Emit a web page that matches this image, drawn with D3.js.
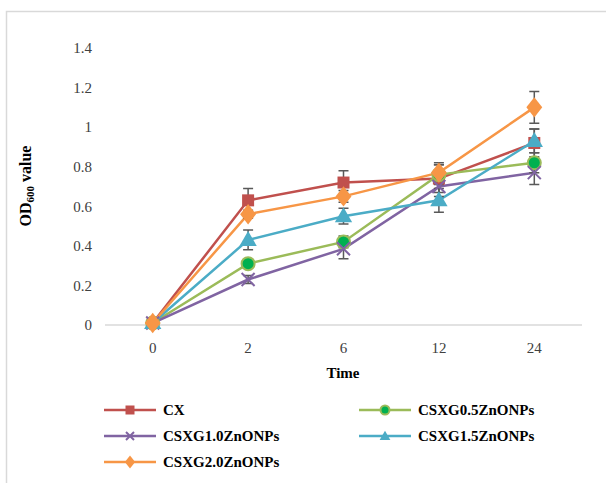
<!DOCTYPE html>
<html><head><meta charset="utf-8">
<script src="https://cdn.jsdelivr.net/npm/d3@7/dist/d3.min.js"></script>
<style>body{margin:0;background:#fff}svg{display:block}</style>
</head><body>
<svg id="c" width="606" height="483"></svg>
<script>
const categories = ["0","2","6","12","24"];
const yTicks = [0,0.2,0.4,0.6,0.8,1,1.2,1.4];
const seriesNames = ["CX","CSXG0.5ZnONPs","CSXG1.0ZnONPs","CSXG1.5ZnONPs","CSXG2.0ZnONPs"];
const cxValues   = [0.01,0.63,0.72,0.74,0.92];
const cxErr      = [0.01,0.06,0.06,0.07,0.07];
const g05Values  = [0.01,0.31,0.42,0.76,0.82];
const g05Err     = [0.01,0.02,0.03,0.05,0.05];
const g10Values  = [0.01,0.23,0.385,0.70,0.77];
const g10Err     = [0.01,0.02,0.05,0.05,0.06];
const g15Values  = [0.01,0.43,0.55,0.63,0.93];
const g15Err     = [0.01,0.05,0.04,0.06,0.06];
const g20Values  = [0.01,0.56,0.65,0.77,1.10];
const g20Err     = [0.01,0.02,0.03,0.05,0.08];
const colors = ["#C0504D","#9BBB59","#8064A2","#4BACC6","#F79646"];
const symbols = ["square","circle","cross","triangle","diamond"];

const series = seriesNames.map((n,i)=>({name:n,values:[cxValues,g05Values,g10Values,g15Values,g20Values][i],err:[cxErr,g05Err,g10Err,g15Err,g20Err][i],color:colors[i],sym:symbols[i]}));

const svg = d3.select("#c");
const font = "'Liberation Serif', 'DejaVu Serif', serif";

// frame
svg.append("path").attr("d","M6.5,483 V11.5 H606").attr("fill","none").attr("stroke","#d9d9d9").attr("stroke-width",1.5);

const x = d3.scalePoint().domain(categories).range([105,582]).padding(0.5);
const y = d3.scaleLinear().domain([0,1.4]).range([325,48]);

// x axis line
svg.append("line").attr("x1",105).attr("x2",582).attr("y1",y(0)).attr("y2",y(0)).attr("stroke","#d9d9d9").attr("stroke-width",1.5);

// y tick labels
svg.append("g").selectAll("text").data(yTicks).join("text")
  .attr("x",92).attr("y",d=>y(d)).attr("dy","0.35em").attr("text-anchor","end")
  .attr("font-family",font).attr("font-size",15).attr("fill","#404040").text(d=>d3.format("")(d));
// x tick labels
svg.append("g").selectAll("text").data(categories).join("text")
  .attr("x",d=>x(d)).attr("y",348).attr("dy","0.35em").attr("text-anchor","middle")
  .attr("font-family",font).attr("font-size",15).attr("fill","#404040").text(d=>d);

// axis titles
svg.append("text").attr("x",343).attr("y",373).attr("dy","0.35em").attr("text-anchor","middle")
  .attr("font-family",font).attr("font-size",15).attr("font-weight","bold").attr("fill","#000").text("Time");
const yt = svg.append("text").attr("transform","translate(31,186) rotate(-90)").attr("text-anchor","middle")
  .attr("font-family",font).attr("font-size",16).attr("font-weight","bold").attr("fill","#000");
yt.append("tspan").text("OD");
yt.append("tspan").attr("font-size",11).attr("dy",3).text("600");
yt.append("tspan").attr("dy",-3).text(" value");

const line = d3.line().x((d,i)=>x(categories[i])).y(d=>y(d));

function marker(g, s, cx, cy, legend){
  const k = legend ? 0.75 : 1;
  if(s.sym==="square"){
    g.append("rect").attr("x",cx-6*k).attr("y",cy-6*k).attr("width",12*k).attr("height",12*k).attr("fill",s.color);
  } else if(s.sym==="circle"){
    g.append("circle").attr("cx",cx).attr("cy",cy).attr("r",(legend?4.5:6.5)).attr("fill","#00B050").attr("stroke",s.color).attr("stroke-width",2);
  } else if(s.sym==="cross"){
    const r=(legend?4:6.5);
    g.append("path").attr("d",`M${cx-r},${cy-r}L${cx+r},${cy+r}M${cx-r},${cy+r}L${cx+r},${cy-r}`).attr("stroke",s.color).attr("stroke-width",2);
  } else if(s.sym==="triangle"){
    g.append("path").attr("d",d3.symbol(d3.symbolTriangle, legend?50:130)()).attr("transform",`translate(${cx},${cy+1})`).attr("fill",s.color);
  } else {
    g.append("path").attr("d",d3.symbol(d3.symbolDiamond, legend?50:120)()).attr("transform",`translate(${cx},${cy}) scale(1.35,1)`).attr("fill",s.color);
  }
}

const gl = svg.append("g"), ge = svg.append("g"), gm = svg.append("g");
series.forEach(s=>{
  gl.append("path").attr("d",line(s.values)).attr("fill","none").attr("stroke",s.color).attr("stroke-width",2.5);
  s.values.forEach((v,i)=>{
    const cx=x(categories[i]), t=y(v+s.err[i]), b=y(v-s.err[i]);
    ge.append("path").attr("d",`M${cx},${t}V${b}M${cx-5},${t}H${cx+5}M${cx-5},${b}H${cx+5}`)
      .attr("stroke","#595959").attr("stroke-width",1.5).attr("fill","none");
  });
});
series.forEach(s=>{
  s.values.forEach((v,i)=>marker(gm,s,x(categories[i]),y(v),false));
});

// legend
const legPos = [[104,410],[359,410],[104,436],[359,436],[104,462]];
series.forEach((s,i)=>{
  const [lx,ly]=legPos[i];
  const g=svg.append("g");
  g.append("line").attr("x1",lx).attr("x2",lx+52).attr("y1",ly).attr("y2",ly).attr("stroke",s.color).attr("stroke-width",2.5);
  marker(g,s,lx+26,ly,true);
  g.append("text").attr("x",lx+59).attr("y",ly).attr("dy","0.35em").attr("font-family",font).attr("font-size",15).attr("font-weight","bold").attr("fill","#000").text(s.name);
});
</script>
</body></html>
